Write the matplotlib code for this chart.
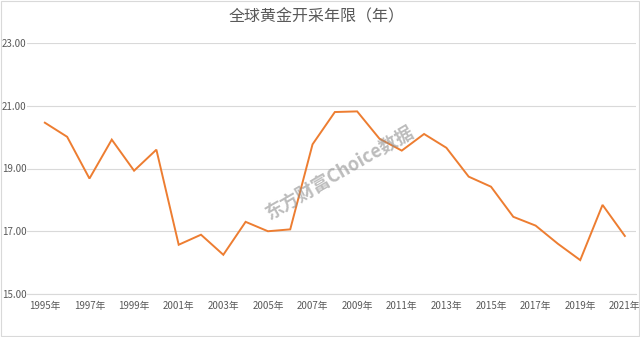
import matplotlib
matplotlib.use("Agg")
import matplotlib.pyplot as plt
from matplotlib.patches import Rectangle

plt.rcParams['font.family'] = ['Noto Sans CJK SC', 'DejaVu Sans']

years = list(range(1995, 2022))
values = [20.46, 20.01, 18.68, 19.92, 18.93, 19.60, 16.57, 16.89, 16.25, 17.30,
          17.00, 17.06, 19.77, 20.80, 20.82, 19.95, 19.57, 20.10, 19.66, 18.74,
          18.42, 17.46, 17.18, 16.60, 16.08, 17.84, 16.85]
tick_years = list(range(1995, 2022, 2))
tick_labels = [f"{y}年" for y in tick_years]
y_ticks = [15, 17, 19, 21, 23]
title = "全球黄金开采年限（年）"

fig = plt.figure(figsize=(6.4, 3.37), dpi=100)
ax = fig.add_axes([27/640, 1-294/337, (636-27)/640, (294-43)/337])

ax.plot(years, values, color='#ED7D31', linewidth=1.4, solid_joinstyle='miter')
ax.set_xlim(1994.2, 2021.5)
ax.set_ylim(15, 23)
ax.set_yticks(y_ticks)
ax.set_yticklabels([f"{v:.2f}" for v in y_ticks])
ax.set_xticks(tick_years)
ax.set_xticklabels(tick_labels)
ax.tick_params(axis='both', length=0, labelsize=7, colors='#595959')
ax.tick_params(axis='y', pad=0.5)
ax.tick_params(axis='x', pad=5)
ax.grid(axis='y', color='#D9D9D9', linewidth=0.8)
ax.set_axisbelow(True)
for s in ['top', 'right', 'left']:
    ax.spines[s].set_visible(False)
ax.spines['bottom'].set_color('#D9D9D9')
ax.spines['bottom'].set_linewidth(0.8)

fig.text(0.495, 1-17/337, title, ha='center', va='center', fontsize=11.5, color='#595959')

fig.text(340/640, 1-172/337, "东方财富Choice数据", rotation=30, ha='center', va='center',
         fontsize=13, color='#909090', alpha=0.6, fontweight='bold',
         family=['Noto Sans CJK SC', 'DejaVu Sans'])

fig.patches.append(Rectangle((0.002, 0.003), 0.996, 0.994, transform=fig.transFigure,
                             fill=False, edgecolor='#D9D9D9', linewidth=0.8))

fig.savefig("out.png", dpi=100)
